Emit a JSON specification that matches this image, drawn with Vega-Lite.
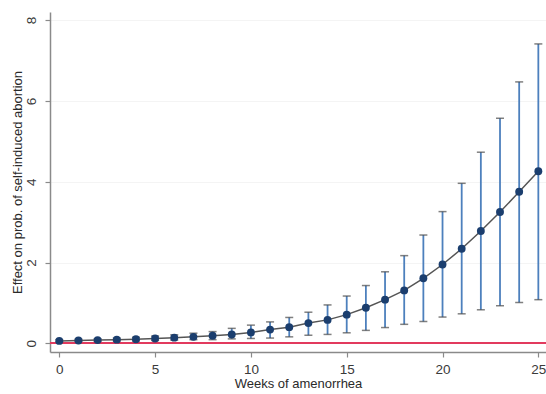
{
  "$schema": "https://vega.github.io/schema/vega-lite/v6.json",
  "width": 496,
  "height": 340,
  "autosize": "none",
  "padding": {"left": 50, "top": 12, "right": 0, "bottom": 42},
  "background": "white",
  "config": {
    "view": {"stroke": null},
    "font": "Liberation Sans",
    "axis": {
      "domainColor": "#8a8a8a",
      "domainWidth": 1.5,
      "tickColor": "#8a8a8a",
      "tickWidth": 1.2,
      "tickSize": 5,
      "labelColor": "#3a3a3a",
      "titleColor": "#2a2a2a",
      "labelFont": "Liberation Sans",
      "titleFont": "Liberation Sans",
      "labelFontSize": 13.5,
      "titleFontSize": 13,
      "titleFontWeight": "normal"
    }
  },
  "data": {
    "values": [
      {"week": 0, "est": 0.06, "lo": 0.04, "hi": 0.09},
      {"week": 1, "est": 0.07, "lo": 0.05, "hi": 0.10},
      {"week": 2, "est": 0.08, "lo": 0.05, "hi": 0.11},
      {"week": 3, "est": 0.09, "lo": 0.06, "hi": 0.13},
      {"week": 4, "est": 0.10, "lo": 0.06, "hi": 0.15},
      {"week": 5, "est": 0.12, "lo": 0.07, "hi": 0.18},
      {"week": 6, "est": 0.14, "lo": 0.08, "hi": 0.21},
      {"week": 7, "est": 0.16, "lo": 0.09, "hi": 0.25},
      {"week": 8, "est": 0.19, "lo": 0.09, "hi": 0.29},
      {"week": 9, "est": 0.22, "lo": 0.11, "hi": 0.37},
      {"week": 10, "est": 0.27, "lo": 0.12, "hi": 0.45},
      {"week": 11, "est": 0.34, "lo": 0.13, "hi": 0.53},
      {"week": 12, "est": 0.40, "lo": 0.16, "hi": 0.64},
      {"week": 13, "est": 0.50, "lo": 0.20, "hi": 0.77},
      {"week": 14, "est": 0.58, "lo": 0.22, "hi": 0.95},
      {"week": 15, "est": 0.71, "lo": 0.26, "hi": 1.17},
      {"week": 16, "est": 0.88, "lo": 0.32, "hi": 1.43},
      {"week": 17, "est": 1.08, "lo": 0.39, "hi": 1.77},
      {"week": 18, "est": 1.31, "lo": 0.47, "hi": 2.17},
      {"week": 19, "est": 1.61, "lo": 0.54, "hi": 2.68},
      {"week": 20, "est": 1.95, "lo": 0.65, "hi": 3.26},
      {"week": 21, "est": 2.34, "lo": 0.73, "hi": 3.96},
      {"week": 22, "est": 2.78, "lo": 0.83, "hi": 4.73},
      {"week": 23, "est": 3.25, "lo": 0.93, "hi": 5.57},
      {"week": 24, "est": 3.75, "lo": 1.01, "hi": 6.47},
      {"week": 25, "est": 4.26, "lo": 1.08, "hi": 7.41}
    ]
  },
  "encoding": {
    "x": {
      "field": "week",
      "type": "quantitative",
      "scale": {"domain": [-0.485, 25.4], "nice": false, "zero": false},
      "axis": {
        "title": "Weeks of amenorrhea",
        "values": [0, 5, 10, 15, 20, 25],
        "grid": false,
        "labelPadding": 5,
        "titlePadding": 2
      }
    }
  },
  "layer": [
    {
      "mark": {"type": "rule", "color": "#e23a5e", "strokeWidth": 1.6},
      "encoding": {
        "x": null,
        "y": {"datum": 0, "type": "quantitative"}
      }
    },
    {
      "mark": {"type": "rule", "color": "#4d80bd", "strokeWidth": 1.8},
      "encoding": {
        "y": {
          "field": "lo",
          "type": "quantitative",
          "scale": {"domain": [-0.215, 8.2], "nice": false, "zero": false},
          "axis": {
            "title": "Effect on prob. of self-induced abortion",
            "values": [0, 2, 4, 6, 8],
            "labelAngle": -90,
            "labelAlign": "center",
            "labelBaseline": "bottom",
            "labelPadding": 7,
            "titlePadding": 0,
            "grid": true,
            "gridColor": "#f4f4f4",
            "gridWidth": 1.2
          }
        },
        "y2": {"field": "hi"}
      }
    },
    {
      "mark": {"type": "tick", "orient": "horizontal", "color": "#4a4a4a", "size": 8, "thickness": 1.5},
      "encoding": {"y": {"field": "lo", "type": "quantitative"}}
    },
    {
      "mark": {"type": "tick", "orient": "horizontal", "color": "#4a4a4a", "size": 8, "thickness": 1.5},
      "encoding": {"y": {"field": "hi", "type": "quantitative"}}
    },
    {
      "mark": {"type": "line", "color": "#555555", "strokeWidth": 1.5},
      "encoding": {"y": {"field": "est", "type": "quantitative"}}
    },
    {
      "mark": {"type": "point", "filled": true, "color": "#1b3e6e", "size": 62, "opacity": 1},
      "encoding": {"y": {"field": "est", "type": "quantitative"}}
    }
  ]
}
